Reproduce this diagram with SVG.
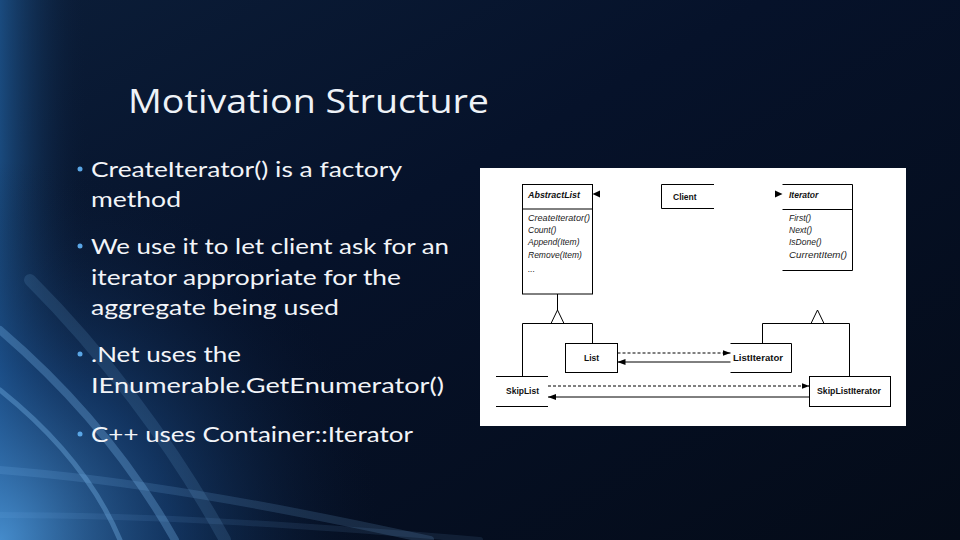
<svg xmlns="http://www.w3.org/2000/svg" width="960" height="540" viewBox="0 0 960 540">
  <defs>
    <linearGradient id="bg" x1="0" y1="0" x2="1" y2="1">
      <stop offset="0" stop-color="#0b1d38"/>
      <stop offset="0.4" stop-color="#06122a"/>
      <stop offset="1" stop-color="#040b18"/>
    </linearGradient>
    <linearGradient id="edge" x1="0" y1="0" x2="1" y2="0">
      <stop offset="0" stop-color="#1f5a96" stop-opacity="0.75"/>
      <stop offset="1" stop-color="#0a1830" stop-opacity="0"/>
    </linearGradient>
    <radialGradient id="glow" cx="0" cy="540" r="380" gradientUnits="userSpaceOnUse">
      <stop offset="0" stop-color="#4a93d4" stop-opacity="0.9"/>
      <stop offset="0.45" stop-color="#1d5290" stop-opacity="0.55"/>
      <stop offset="1" stop-color="#0a1830" stop-opacity="0"/>
    </radialGradient>
    <marker id="ah" viewBox="0 0 8 6" refX="8" refY="3" markerWidth="8" markerHeight="6" markerUnits="userSpaceOnUse" orient="auto">
      <path d="M0,0 L8,3 L0,6 Z" fill="#000"/>
    </marker>
    <style>
      .title { font-family: "Open Sans", "Liberation Sans", sans-serif; font-size: 33px; fill: #eef2f7; }
      .bul { font-family: "Lato", "Liberation Sans", sans-serif; font-size: 22px; fill: #f2f4f8; }
      .dot { fill: #5aa6e6; }
      .ln { stroke: #000; stroke-width: 1; fill: none; }
      .dash { stroke: #000; stroke-width: 1; fill: none; stroke-dasharray: 3 2; }
      .box { fill: #fff; stroke: #000; stroke-width: 1; }
      .cls { font-family: "Liberation Sans", Arial, sans-serif; font-size: 8.5px; font-weight: bold; fill: #111; }
      .abs { font-family: "Liberation Sans", Arial, sans-serif; font-size: 8.5px; font-weight: bold; font-style: italic; fill: #111; }
      .op { font-family: "Liberation Sans", Arial, sans-serif; font-size: 8.5px; font-style: italic; fill: #222; }
    </style>
  </defs>

  <!-- background -->
  <rect x="0" y="0" width="960" height="540" fill="url(#bg)"/>
  <rect x="0" y="0" width="90" height="540" fill="url(#edge)"/>
  <rect x="0" y="0" width="960" height="540" fill="url(#glow)"/>
  <g fill="none" stroke="#7dbdf2" stroke-linecap="round">
    <path d="M0,330 C70,390 130,460 175,540" stroke-opacity="0.3" stroke-width="8"/>
    <path d="M0,390 C50,430 95,480 120,540" stroke-opacity="0.35" stroke-width="5"/>
    <path d="M30,280 C100,350 170,440 225,540" stroke-opacity="0.14" stroke-width="12"/>
    <path d="M0,470 C130,480 270,505 430,540" stroke-opacity="0.16" stroke-width="8"/>
    <path d="M0,515 C150,515 300,525 480,540" stroke-opacity="0.1" stroke-width="6"/>
  </g>

  <!-- title -->
  <text class="title" x="128" y="113" textLength="361" lengthAdjust="spacingAndGlyphs">Motivation Structure</text>

  <!-- bullets -->
  <g id="bullets">
    <circle class="dot" cx="80" cy="169" r="2.5"/>
    <text class="bul" x="91" y="177" textLength="311" lengthAdjust="spacingAndGlyphs">CreateIterator() is a factory</text>
    <text class="bul" x="91" y="207" textLength="90" lengthAdjust="spacingAndGlyphs">method</text>
    <circle class="dot" cx="80" cy="246" r="2.5"/>
    <text class="bul" x="91" y="254" textLength="358" lengthAdjust="spacingAndGlyphs">We use it to let client ask for an</text>
    <text class="bul" x="91" y="285" textLength="310" lengthAdjust="spacingAndGlyphs">iterator appropriate for the</text>
    <text class="bul" x="91" y="315" textLength="248" lengthAdjust="spacingAndGlyphs">aggregate being used</text>
    <circle class="dot" cx="80" cy="354" r="2.5"/>
    <text class="bul" x="91" y="362" textLength="150" lengthAdjust="spacingAndGlyphs">.Net uses the</text>
    <text class="bul" x="91" y="393" textLength="353" lengthAdjust="spacingAndGlyphs">IEnumerable.GetEnumerator()</text>
    <circle class="dot" cx="80" cy="434" r="2.5"/>
    <text class="bul" x="91" y="442" textLength="322" lengthAdjust="spacingAndGlyphs">C++ uses Container::Iterator</text>
  </g>

  <!-- diagram panel -->
  <rect x="480" y="168" width="426" height="258" fill="#fff"/>

  <g id="connectors">
    <line class="ln" x1="557.5" y1="294" x2="557.5" y2="310"/>
    <path class="ln" d="M557.5,310 L551,323.5 L564,323.5 Z" fill="#fff"/>
    <polyline class="ln" points="522.5,376 522.5,323.5 592.5,323.5 592.5,343.5"/>
    <path class="ln" d="M817.5,310 L811,323.5 L824,323.5 Z" fill="#fff"/>
    <polyline class="ln" points="762.5,343.5 762.5,323.5 849.5,323.5 849.5,376"/>
    <line class="dash" x1="617.5" y1="353" x2="730.5" y2="353" marker-end="url(#ah)"/>
    <line class="ln" x1="730.5" y1="362" x2="617.5" y2="362" marker-end="url(#ah)"/>
    <line class="dash" x1="548" y1="386" x2="809.5" y2="386" marker-end="url(#ah)"/>
    <line class="ln" x1="809.5" y1="397" x2="548" y2="397" marker-end="url(#ah)"/>
    <path d="M592.5,194 L600,190.5 L600,197.5 Z" fill="#000"/>
    <path d="M782.5,194 L775,190.5 L775,197.5 Z" fill="#000"/>
  </g>

  <g id="AbstractList">
    <rect class="box" x="522.5" y="184.5" width="70" height="109.5"/>
    <line class="ln" x1="522.5" y1="209" x2="592.5" y2="209"/>
    <text class="abs" x="528" y="198" textLength="52" lengthAdjust="spacingAndGlyphs">AbstractList</text>
    <text class="op" x="528" y="221" textLength="62" lengthAdjust="spacingAndGlyphs">CreateIterator()</text>
    <text class="op" x="528" y="233">Count()</text>
    <text class="op" x="528" y="245">Append(Item)</text>
    <text class="op" x="528" y="258">Remove(Item)</text>
    <text class="op" x="528" y="272">...</text>
  </g>

  <g id="Client">
    <polyline class="ln" points="714,184.5 661.5,184.5 661.5,208.5 714,208.5"/>
    <text class="cls" x="673" y="200">Client</text>
  </g>

  <g id="Iterator">
    <polyline class="ln" points="782.5,184.5 852.5,184.5 852.5,270.5 782.5,270.5"/>
    <line class="ln" x1="782.5" y1="209.5" x2="852.5" y2="209.5"/>
    <text class="abs" x="789" y="198">Iterator</text>
    <text class="op" x="789" y="221">First()</text>
    <text class="op" x="789" y="233">Next()</text>
    <text class="op" x="789" y="245">IsDone()</text>
    <text class="op" x="789" y="258" textLength="58" lengthAdjust="spacingAndGlyphs">CurrentItem()</text>
  </g>

  <g id="List">
    <rect class="box" x="565.5" y="343.5" width="52" height="29"/>
    <text class="cls" x="591.5" y="361" text-anchor="middle">List</text>
  </g>

  <g id="ListIterator">
    <polyline class="ln" points="730.5,343.5 791.5,343.5 791.5,372.5 730.5,372.5"/>
    <text class="cls" x="733" y="361" textLength="50" lengthAdjust="spacingAndGlyphs">ListIterator</text>
  </g>

  <g id="SkipList">
    <line class="ln" x1="496" y1="376.5" x2="548" y2="376.5"/>
    <line class="ln" x1="496" y1="406.5" x2="548" y2="406.5"/>
    <text class="cls" x="506" y="394" textLength="33" lengthAdjust="spacingAndGlyphs">SkipList</text>
  </g>

  <g id="SkipListIterator">
    <rect class="box" x="809.5" y="376.5" width="81" height="30"/>
    <text class="cls" x="817" y="394" textLength="64" lengthAdjust="spacingAndGlyphs">SkipListIterator</text>
  </g>
</svg>
